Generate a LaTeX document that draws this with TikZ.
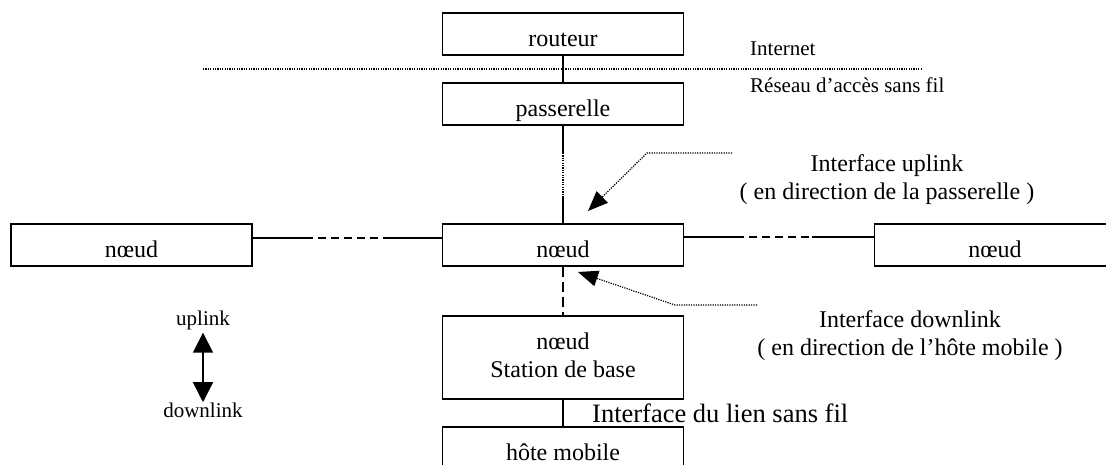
\documentclass[tikz,border=0pt]{standalone}
\usepackage{fontspec}
\setmainfont{Liberation Serif}
\usetikzlibrary{arrows.meta}
\begin{document}
\begin{tikzpicture}[x=1pt,y=-1pt,
  box/.style={draw,line width=1.4pt,minimum width=241pt,minimum height=42pt,inner sep=0pt,
    text height=24pt,text depth=0pt,font=\fontsize{24}{28}\selectfont},
  conn/.style={line width=1.4pt},
  dashtwo/.style={line width=1.4pt,dash pattern=on 8pt off 5pt},
  dots/.style={line width=1.2pt,dash pattern=on 1.2pt off 1.2pt},
  small/.style={font=\fontsize{21}{25}\selectfont,inner sep=0pt},
  mid/.style={font=\fontsize{24}{28}\selectfont,inner sep=0pt},
  tri/.style={-{Triangle[length=20pt,width=16pt]}}
]
\useasboundingbox (0,0) rectangle (1106,464);
\clip (0,0) rectangle (1106,464);

% boxes
\node[box] (rout) at (563,34) {routeur};
\node[box] (pas) at (563,104) {passerelle};
\node[box] (nM) at (563,245) {nœud};
\node[box] (nL) at (131.5,245) {nœud};
\node[box] (nR) at (995,245) {nœud};
\node[box,minimum height=83pt,text height=39pt,align=center] (bs) at (563,357.5) {nœud\\Station de base};
\node[box,minimum height=60pt,text height=6pt] (hote) at (563,457) {hôte mobile};

% separation line
\draw[dots] (203,69) -- (922,69);
\node[small,anchor=base west] (inet) at (750,55) {Internet};
\node[small,anchor=base west] (rasf) at (750,92) {Réseau d’accès sans fil};

% connectors
\draw[conn] (rout) -- (pas);
\coordinate (d1) at (563,153);
\coordinate (d2) at (563,197);
\draw[conn] (pas.south) -- (d1);
\draw[dots] (d1) -- (d2);
\draw[conn] (d2) -- (nM.north);

\draw[dashtwo] ([yshift=7pt]nL.east) -- ([yshift=7pt]nM.west);
\draw[conn] ([yshift=7pt]nL.east) -- ++(53,0);
\draw[conn] ([yshift=7pt]nM.west) -- ++(-53,0);

\draw[dashtwo] ([yshift=8pt]nM.east) -- ([yshift=8pt]nR.west);
\draw[conn] ([yshift=8pt]nM.east) -- ++(55,0);
\draw[conn] ([yshift=8pt]nR.west) -- ++(-62,0);

\draw[conn,dash pattern=on 10pt off 5pt] (nM) -- (bs);
\draw[conn] (bs) -- (hote);

% interface labels
\coordinate (ua) at (732,153);
\coordinate (ub) at (647,153);
\coordinate (uc) at (588,211);
\draw[dots,tri] (ua) -- (ub) -- (uc);
\coordinate (da) at (757,305);
\coordinate (db) at (675,305);
\coordinate (dc) at (578,272);
\draw[dots,tri] (da) -- (db) -- (dc);

\node[mid,align=center,text height=45pt,text depth=0pt] (iu) at (887,176.5)
  {Interface uplink\\( en direction de la passerelle )};
\node[mid,align=center,text height=45pt,text depth=0pt] (id) at (910,332.5)
  {Interface downlink\\( en direction de l’hôte mobile )};
\node[font=\fontsize{26.5}{30}\selectfont,inner sep=0pt,anchor=base west] (ilsf) at (592,422)
  {Interface du lien sans fil};

% legend
\node[small,anchor=base] (up) at (203,325) {uplink};
\node[small,anchor=base] (dn) at (203,417) {downlink};
\draw[line width=1.4pt,{Triangle[length=20pt,width=20pt]}-{Triangle[length=20pt,width=20pt]},shorten <=3pt]
  (up.south) -- (dn.north);
\end{tikzpicture}
\end{document}
